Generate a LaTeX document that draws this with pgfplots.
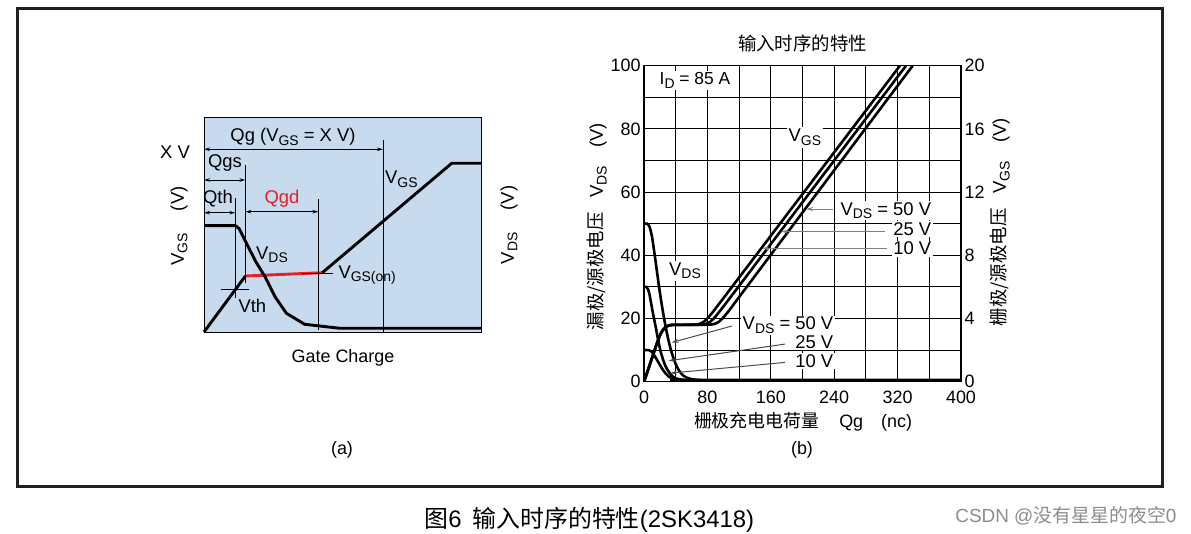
\documentclass[border=0pt]{standalone}
\usepackage{pgfplots}
\pgfplotsset{compat=1.18}
\usepackage{fontspec}
\setmainfont{Liberation Sans}
\newfontfamily\cjk{Noto Sans CJK SC}
\usetikzlibrary{arrows.meta}
\definecolor{panelblue}{RGB}{200,218,238}
\definecolor{qred}{RGB}{232,30,38}
\definecolor{framec}{RGB}{35,31,32}
\newcommand{\fs}[1]{\fontsize{#1}{#1}\selectfont}
\newcommand{\sub}[1]{\raisebox{-0.38ex}{\fontsize{14}{14}\selectfont #1}}
\begin{document}
\begin{tikzpicture}
\useasboundingbox (0,0) rectangle (1191bp,534bp);
\draw[framec, line width=3bp] (17bp,525.5bp) rectangle (1162.5bp,47bp);
% ---------------- left panel (a) ----------------
\begin{axis}[at={(204bp,202bp)}, anchor=south west, width=277bp, height=215bp, scale only axis,
  xmin=0, xmax=277, ymin=0, ymax=215, xtick=\empty, ytick=\empty,
  axis background/.style={fill=panelblue}, axis line style={line width=0.9bp, black},
  clip=false]
\addplot[black, line width=2.9bp] coordinates {(0,0) (41.4,56)};
\addplot[qred, line width=2.9bp] coordinates {(41.4,56) (118.3,59.3)};
\addplot[black, line width=2.9bp] coordinates {(118.3,59.3) (247.7,168.7) (277,168.7)};
\addplot[black, line width=2.9bp] coordinates {(0,106.3) (31.4,106.3) (35,103.5) (42.4,88.7) (52,70) (61,55.3) (71,35.3) (82.4,18.7) (100.7,7.7) (136,3.7) (277,3.7)};
% thin marker lines
\draw[black, line width=0.9bp] (axis cs:179,0) -- (axis cs:179,192);
\draw[black, line width=0.9bp] (axis cs:41.4,48.7) -- (axis cs:41.4,167);
\draw[black, line width=0.9bp] (axis cs:31.4,33.7) -- (axis cs:31.4,133.7);
\draw[black, line width=0.9bp] (axis cs:114.3,2) -- (axis cs:114.3,132.7);
\draw[black, line width=0.9bp] (axis cs:98.3,59) -- (axis cs:128.7,59);
\draw[black, line width=0.9bp] (axis cs:16.7,42.7) -- (axis cs:44.7,42.7);
\draw[black, line width=0.9bp, {Stealth[length=6bp,width=3.5bp]}-{Stealth[length=6bp,width=3.5bp]}] (axis cs:0,182.7) -- (axis cs:179,182.7);
\draw[black, line width=0.9bp, {Stealth[length=6bp,width=3.5bp]}-{Stealth[length=6bp,width=3.5bp]}] (axis cs:0,152) -- (axis cs:41.4,152);
\draw[black, line width=0.9bp, {Stealth[length=6bp,width=3.5bp]}-{Stealth[length=6bp,width=3.5bp]}] (axis cs:0,119.3) -- (axis cs:31.4,119.3);
\draw[black, line width=0.9bp, {Stealth[length=6bp,width=3.5bp]}-{Stealth[length=6bp,width=3.5bp]}] (axis cs:41.4,120.3) -- (axis cs:114.3,120.3);
% labels
\node[font=\fs{18.5}, inner sep=0] at (axis cs:89,195) {Qg (V\sub{GS} = X V)};
\node[font=\fs{18.5}, inner sep=0] at (axis cs:-29,180) {X V};
\node[font=\fs{18.5}, inner sep=0] at (axis cs:21,169) {Qgs};
\node[font=\fs{18.5}, inner sep=0] at (axis cs:14,133) {Qth};
\node[font=\fs{18.5}, inner sep=0, text=qred] at (axis cs:78,133) {Qgd};
\node[font=\fs{18.5}, inner sep=0, anchor=base west] at (axis cs:181,148) {V\sub{GS}};
\node[font=\fs{18.5}, inner sep=0, anchor=base west] at (axis cs:52,72.7) {V\sub{DS}};
\node[font=\fs{18.5}, inner sep=0, anchor=base west] at (axis cs:134.3,53.7) {V\sub{GS(on)}};
\node[font=\fs{18.5}, inner sep=0, anchor=base west] at (axis cs:34.3,19.3) {Vth};
\node[font=\fs{18.5}, inner sep=0, rotate=90] at (axis cs:-25,106) {V\sub{GS}\hspace{1.2em}(V)};
\node[font=\fs{18.5}, inner sep=0, rotate=90] at (axis cs:305,107) {V\sub{DS}\hspace{1.2em}(V)};
\node[font=\fs{18}, inner sep=0] at (axis cs:139,-26) {Gate Charge};
\node[font=\fs{18}, inner sep=0] at (axis cs:138,-118) {(a)};
\end{axis}
% ---------------- right panel (b) ----------------
\begin{axis}[at={(644bp,152.3bp)}, anchor=south west, width=317bp, height=316bp, scale only axis,
  xmin=0, xmax=400, ymin=0, ymax=100,
  xtick={0,80,...,400}, ytick={0,20,...,100},
  minor xtick={40,120,...,360}, minor ytick={10,30,...,90},
  grid=both, major grid style={black, line width=1.1bp}, minor grid style={black, line width=1.1bp},
  major tick length=0pt, minor tick length=0pt,
  axis line style={line width=1.3bp, black},
  ticklabel style={font=\fs{18}}, xticklabel style={yshift=-6bp},
  /pgf/number format/assume math mode=true,
  clip=true]
% VDS curves
\addplot[black, line width=2.6bp, smooth, tension=0.45] coordinates {(0,50) (4,50) (7,49) (10,46) (13,41) (16,35.5) (19,30) (22,25) (25,20.5) (28,16.5) (31,13) (34,10) (37,7.6) (40,5.6) (44,3.6) (48,2.3) (53,1.4) (60,0.8) (70,0.55) (85,0.5) (400,0.5)};
\addplot[black, line width=2.6bp, smooth, tension=0.45] coordinates {(0,30) (3,30) (5,29.3) (7,27.5) (9,24.8) (11,22) (13,19.5) (15,17) (17,14.3) (19,11.8) (21,9.6) (23,7.8) (26,5.6) (29,4) (33,2.5) (37,1.5) (42,0.9) (50,0.6) (60,0.5) (400,0.5)};
\addplot[black, line width=2.6bp, smooth, tension=0.45] coordinates {(0,10) (6,10) (9,9.6) (12,8.7) (15,7.5) (18,6.2) (21,4.9) (24,3.7) (27,2.7) (30,1.9) (34,1.2) (39,0.8) (45,0.6) (55,0.5) (400,0.5)};
% VGS curves (VGS x 5)
\addplot[black, line width=2.6bp, smooth, tension=0.45] coordinates {(0,0) (4,2.9) (8,5.9) (12,8.9) (16,11.9) (20,14.6) (24,16.4) (28,17.4) (32,17.85) (38,18) (45,18) (55,18.01) (60,18.02) (65,18.08) (70,18.29) (75,18.89) (80,20.01) (85,21.48) (90,23.08) (100,26.37) (150,42.88) (200,59.39) (250,75.9) (300,92.41) (323,100)};
\addplot[black, line width=2.6bp, smooth, tension=0.45] coordinates {(0,0) (4,2.9) (8,5.9) (12,8.9) (16,11.9) (20,14.6) (24,16.4) (28,17.4) (32,17.85) (38,18) (45,18) (55,18) (63,18.01) (68,18.02) (73,18.08) (78,18.29) (83,18.89) (88,20.01) (93,21.48) (98,23.08) (110,27.02) (150,40.25) (200,56.79) (250,73.33) (300,89.87) (330.6,100)};
\addplot[black, line width=2.6bp, smooth, tension=0.45] coordinates {(0,0) (4,2.9) (8,5.9) (12,8.9) (16,11.9) (20,14.6) (24,16.4) (28,17.4) (32,17.85) (38,18) (45,18) (55,18) (65,18) (74,18.01) (79,18.02) (84,18.08) (89,18.29) (94,18.89) (99,20.01) (104,21.48) (109,23.08) (120,26.79) (150,36.82) (200,53.53) (250,70.25) (300,86.96) (339,100)};
% arrows
\draw[black!50, line width=1bp, -{Stealth[length=7bp,width=4bp]}] (axis cs:238.9,54.65) -- (axis cs:204.5,54.65);
\draw[black!50, line width=1bp, -{Stealth[length=7bp,width=4bp]}] (axis cs:304,47.5) -- (axis cs:173,47.5);
\draw[black!50, line width=1bp, -{Stealth[length=7bp,width=4bp]}] (axis cs:306.3,42.2) -- (axis cs:149,42.2);
\draw[black!70, line width=1bp, -{Stealth[length=7bp,width=4bp]}] (axis cs:110.7,17.6) -- (axis cs:34.9,12.4);
\draw[black!70, line width=1bp, -{Stealth[length=7bp,width=4bp]}] (axis cs:177.9,11.9) -- (axis cs:30.7,6.6);
\draw[black!70, line width=1bp, -{Stealth[length=7bp,width=4bp]}] (axis cs:177.9,6.1) -- (axis cs:32.8,2.7);
% labels
\node[font=\fs{18.5}, fill=white, inner sep=1.5bp, anchor=base east] at (axis cs:364.5,52.75) {V\sub{DS} = 50 V};
\node[font=\fs{18.5}, fill=white, inner sep=1.5bp, anchor=base east] at (axis cs:364.5,46.2) {25 V};
\node[font=\fs{18.5}, fill=white, inner sep=1.5bp, anchor=base east] at (axis cs:364.5,40.1) {10 V};
\node[font=\fs{18.5}, fill=white, inner sep=1.5bp, anchor=base east] at (axis cs:241,16.4) {V\sub{DS} = 50 V};
\node[font=\fs{18.5}, fill=white, inner sep=1.5bp, anchor=base east] at (axis cs:241,10.6) {25 V};
\node[font=\fs{18.5}, fill=white, inner sep=1.5bp, anchor=base east] at (axis cs:241,4.6) {10 V};
\node[font=\fs{18.5}, fill=white, inner sep=2bp] at (axis cs:203,77.3) {V\sub{GS}};
\node[font=\fs{18.5}, fill=white, inner sep=2bp] at (axis cs:51.7,35.1) {V\sub{DS}};
\node[font=\fs{17.5}, fill=white, inner sep=2bp] at (axis cs:64.4,95.3) {I\sub{D} = 85 A};
\end{axis}
\begin{axis}[at={(644bp,152.3bp)}, anchor=south west, width=317bp, height=316bp, scale only axis,
  xmin=0, xmax=400, ymin=0, ymax=20, axis x line=none, axis y line*=right,
  ytick={0,4,...,20}, major tick length=0pt,
  axis line style={line width=1.3bp, black, -},
  ticklabel style={font=\fs{18}}, /pgf/number format/assume math mode=true,
  clip=false]
\node[font=\fs{18.5}] at (rel axis cs:0.5,1.069) {\cjk 输入时序的特性};
\node[font=\fs{18.5}, rotate=90] at (rel axis cs:-0.148,0.491) {{\cjk 漏极/源极电压}\hspace{0.8em}V\sub{DS}\hspace{1em}(V)};
\node[font=\fs{18.5}, rotate=90] at (rel axis cs:1.123,0.505) {{\cjk 栅极/源极电压}\hspace{0.8em}V\sub{GS}\hspace{1em}(V)};
\node[font=\fs{18}] at (rel axis cs:0.5016,-0.1275) {{\cjk 栅极充电电荷量}\hspace{1.1em}Qg\hspace{1em}(nc)};
\node[font=\fs{18}] at (rel axis cs:0.4984,-0.2152) {(b)};
\end{axis}
% caption
\node[font=\fs{24}, anchor=west] at (421bp,14bp) {{\cjk 图}6\hspace{0.45em}{\cjk 输入时序的特性}(2SK3418)};
\node[font=\fs{19}, text=black!45, anchor=east] at (1180bp,18bp) {CSDN @{\cjk 没有星星的夜空}0};
\end{tikzpicture}
\end{document}
